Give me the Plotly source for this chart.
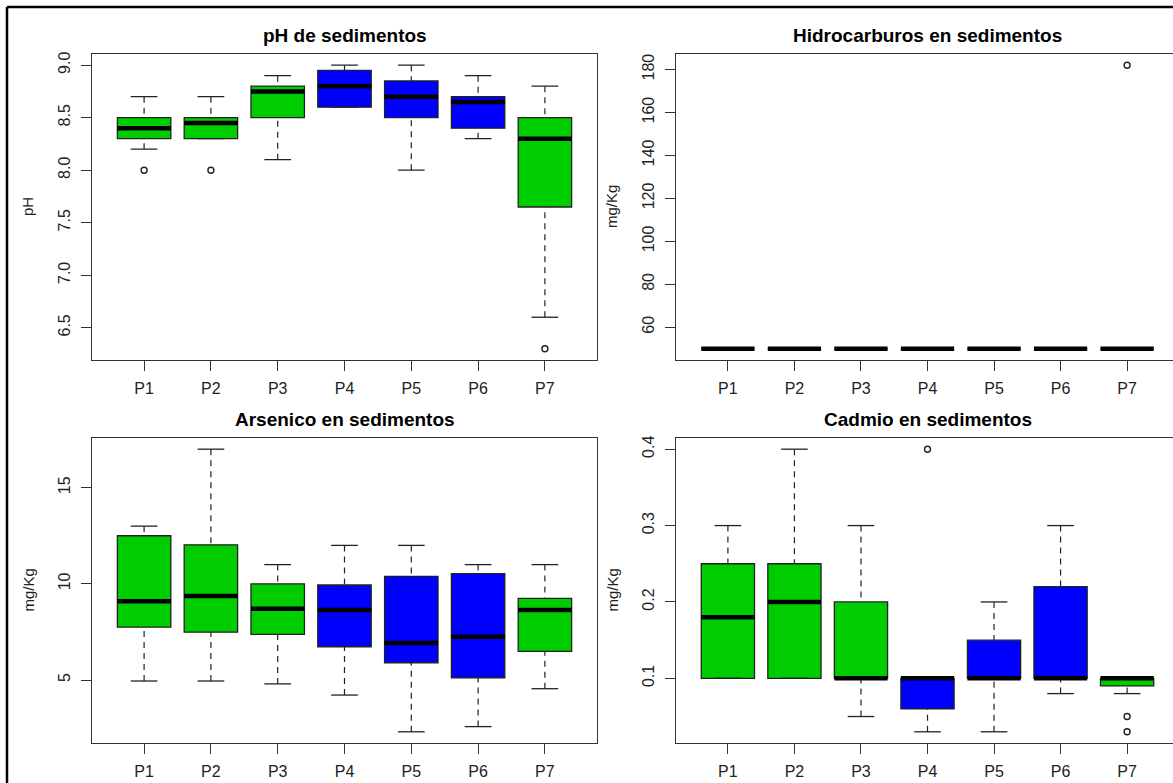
import plotly.graph_objects as go

# ---------------- data ----------------
sites = ["P1", "P2", "P3", "P4", "P5", "P6", "P7"]
box_colors = ["#00CD00", "#00CD00", "#00CD00", "#0000FF", "#0000FF", "#0000FF", "#00CD00"]

# pH de sedimentos
ph_lower = [8.2, 8.3, 8.1, 8.6, 8.0, 8.3, 6.6]
ph_q1 = [8.3, 8.3, 8.5, 8.6, 8.5, 8.4, 7.65]
ph_median = [8.4, 8.45, 8.75, 8.8, 8.7, 8.65, 8.3]
ph_q3 = [8.5, 8.5, 8.8, 8.95, 8.85, 8.7, 8.5]
ph_upper = [8.7, 8.7, 8.9, 9.0, 9.0, 8.9, 8.8]
ph_out_site = ["P1", "P2", "P7"]
ph_out_val = [8.0, 8.0, 6.3]
ph_ticks = [6.5, 7.0, 7.5, 8.0, 8.5, 9.0]
ph_ticktext = ["6.5", "7.0", "7.5", "8.0", "8.5", "9.0"]

# Hidrocarburos en sedimentos
hc_lower = [50, 50, 50, 50, 50, 50, 50]
hc_q1 = [50, 50, 50, 50, 50, 50, 50]
hc_median = [50, 50, 50, 50, 50, 50, 50]
hc_q3 = [50, 50, 50, 50, 50, 50, 50]
hc_upper = [50, 50, 50, 50, 50, 50, 50]
hc_out_site = ["P7"]
hc_out_val = [182]
hc_ticks = [60, 80, 100, 120, 140, 160, 180]
hc_ticktext = ["60", "80", "100", "120", "140", "160", "180"]

# Arsenico en sedimentos
as_lower = [4.95, 4.95, 4.8, 4.22, 2.31, 2.58, 4.55]
as_q1 = [7.75, 7.49, 7.37, 6.73, 5.9, 5.12, 6.49]
as_median = [9.09, 9.37, 8.71, 8.64, 6.92, 7.25, 8.64]
as_q3 = [12.5, 12.03, 10.0, 9.94, 10.39, 10.53, 9.25]
as_upper = [13.0, 17.0, 11.0, 12.0, 12.0, 11.0, 11.0]
as_out_site = []
as_out_val = []
as_ticks = [5, 10, 15]
as_ticktext = ["5", "10", "15"]

# Cadmio en sedimentos
cd_lower = [0.1, 0.1, 0.05, 0.03, 0.03, 0.08, 0.08]
cd_q1 = [0.1, 0.1, 0.1, 0.06, 0.1, 0.1, 0.09]
cd_median = [0.18, 0.2, 0.1, 0.1, 0.1, 0.1, 0.1]
cd_q3 = [0.25, 0.25, 0.2, 0.1, 0.15, 0.22, 0.1]
cd_upper = [0.3, 0.4, 0.3, 0.1, 0.2, 0.3, 0.1]
cd_out_site = ["P4", "P7", "P7"]
cd_out_val = [0.4, 0.05, 0.03]
cd_ticks = [0.1, 0.2, 0.3, 0.4]
cd_ticktext = ["0.1", "0.2", "0.3", "0.4"]

titles = ["pH de sedimentos", "Hidrocarburos en sedimentos",
          "Arsenico en sedimentos", "Cadmio en sedimentos"]
ylabels = ["pH", "mg/Kg", "mg/Kg", "mg/Kg"]

# ---------------- layout geometry (pixels) ----------------
W, H = 1173, 783
FONT = "Liberation Sans, Arial, sans-serif"
INK = "#222222"
FRAME = "#333333"

def px_x(p):
    return p / W

def px_y(p):
    return 1 - p / H

# plot regions: (left, right, top, bottom) in pixels
regions = [
    (92, 597, 52, 359),
    (676, 1179, 52, 359),
    (92, 597, 437, 743),
    (676, 1179, 437, 743),
]

panels = [
    (ph_lower, ph_q1, ph_median, ph_q3, ph_upper, ph_out_site, ph_out_val, ph_ticks, ph_ticktext),
    (hc_lower, hc_q1, hc_median, hc_q3, hc_upper, hc_out_site, hc_out_val, hc_ticks, hc_ticktext),
    (as_lower, as_q1, as_median, as_q3, as_upper, as_out_site, as_out_val, as_ticks, as_ticktext),
    (cd_lower, cd_q1, cd_median, cd_q3, cd_upper, cd_out_site, cd_out_val, cd_ticks, cd_ticktext),
]

fig = go.Figure()
layout_axes = {}
annotations = []

pos = {s: i + 1 for i, s in enumerate(sites)}
n = len(sites)
x_lo_full = 0.5 - 0.04 * n
x_hi_full = n + 0.5 + 0.04 * n

for k, (panel, reg) in enumerate(zip(panels, regions)):
    lower, q1, med, q3, upper, out_site, out_val, yt, ytt = panel
    left, right, top, bottom = reg
    xa = "x" if k == 0 else f"x{k+1}"
    ya = "y" if k == 0 else f"y{k+1}"
    xkey = "xaxis" if k == 0 else f"xaxis{k+1}"
    ykey = "yaxis" if k == 0 else f"yaxis{k+1}"

    # boxes
    for i, s in enumerate(sites):
        fig.add_trace(go.Box(
            x=[pos[s]], q1=[q1[i]], median=[med[i]], q3=[q3[i]],
            lowerfence=[q1[i]], upperfence=[q3[i]],
            width=0.8, whiskerwidth=0, fillcolor=box_colors[i],
            line=dict(color=INK, width=1.3), boxpoints=False,
            xaxis=xa, yaxis=ya, showlegend=False, hoverinfo="skip"))

    # dashed whiskers (from whisker end to box edge)
    wx, wy = [], []
    for i, s in enumerate(sites):
        p = pos[s]
        if upper[i] > q3[i]:
            wx += [p, p, None]
            wy += [upper[i], q3[i], None]
        if lower[i] < q1[i]:
            wx += [p, p, None]
            wy += [lower[i], q1[i], None]
    if wx:
        fig.add_trace(go.Scatter(x=wx, y=wy, mode="lines",
                                 line=dict(color=INK, width=1.2, dash="6px,5px"),
                                 xaxis=xa, yaxis=ya, showlegend=False, hoverinfo="skip"))

    # staples
    sx, sy = [], []
    for i, s in enumerate(sites):
        p = pos[s]
        for v in (upper[i], lower[i]):
            sx += [p - 0.2, p + 0.2, None]
            sy += [v, v, None]
    fig.add_trace(go.Scatter(x=sx, y=sy, mode="lines",
                             line=dict(color=INK, width=1.3),
                             xaxis=xa, yaxis=ya, showlegend=False, hoverinfo="skip"))

    # medians
    mx, my = [], []
    for i, s in enumerate(sites):
        p = pos[s]
        mx += [p - 0.4, p + 0.4, None]
        my += [med[i], med[i], None]
    fig.add_trace(go.Scatter(x=mx, y=my, mode="lines",
                             line=dict(color="black", width=4.5),
                             xaxis=xa, yaxis=ya, showlegend=False, hoverinfo="skip"))

    # outliers
    if out_site:
        fig.add_trace(go.Scatter(x=[pos[s] for s in out_site], y=out_val, mode="markers",
                                 marker=dict(symbol="circle-open", size=6,
                                             color=INK, line=dict(width=1.4, color=INK)),
                                 xaxis=xa, yaxis=ya, showlegend=False, hoverinfo="skip"))

    # y range like R (4% extension)
    allv = list(lower) + list(upper) + list(out_val)
    vmin, vmax = min(allv), max(allv)
    rng = vmax - vmin
    y_range = [vmin - 0.04 * rng, vmax + 0.04 * rng]

    # x range / domain (right panels are cut at the image edge)
    vis_right = min(right, W)
    x_hi = x_lo_full + (x_hi_full - x_lo_full) * (vis_right - left) / (right - left)
    full_frame = right <= W

    layout_axes[xkey] = dict(
        domain=[px_x(left), px_x(vis_right)], range=[x_lo_full, x_hi],
        anchor=ya, tickmode="array", tickvals=[pos[s] for s in sites], ticktext=sites,
        ticks="outside", ticklen=10, tickwidth=1.3, tickcolor=FRAME,
        showline=True, linecolor=FRAME, linewidth=1.3, mirror=True,
        showgrid=False, zeroline=False, ticklabelstandoff=4,
        tickfont=dict(family=FONT, size=16, color=INK), fixedrange=True)
    layout_axes[ykey] = dict(
        domain=[px_y(bottom), px_y(top)], range=y_range,
        anchor=xa, tickmode="array", tickvals=yt, ticktext=ytt, tickangle=-90,
        ticks="outside", ticklen=10, tickwidth=1.3, tickcolor=FRAME,
        showline=True, linecolor=FRAME, linewidth=1.3, mirror=full_frame,
        showgrid=False, zeroline=False, ticklabelstandoff=4,
        tickfont=dict(family=FONT, size=16, color=INK), fixedrange=True)

    # panel title
    annotations.append(dict(
        text=titles[k], xref="paper", yref="paper",
        x=px_x((left + right) / 2), y=px_y(top - 18),
        xanchor="center", yanchor="middle", showarrow=False,
        font=dict(family=FONT, size=19, color="black", weight="bold")))
    # y-axis label
    annotations.append(dict(
        text=ylabels[k], xref="paper", yref="paper",
        x=px_x(left - 64), y=px_y((top + bottom) / 2),
        xanchor="center", yanchor="middle", showarrow=False, textangle=-90,
        font=dict(family=FONT, size=15, color=INK)))

fig.update_layout(
    width=W, height=H, margin=dict(l=0, r=0, t=0, b=0),
    paper_bgcolor="white", plot_bgcolor="white",
    boxmode="overlay", showlegend=False,
    font=dict(family=FONT, size=16, color=INK),
    annotations=annotations,
    shapes=[
        dict(type="line", xref="paper", yref="paper", x0=px_x(7), x1=1, y0=px_y(5), y1=px_y(5),
             line=dict(color="black", width=2.5)),
        dict(type="line", xref="paper", yref="paper", x0=px_x(7), x1=px_x(7), y0=px_y(5), y1=0,
             line=dict(color="black", width=2.5)),
    ],
    **layout_axes,
)

fig.write_html("out.html")
